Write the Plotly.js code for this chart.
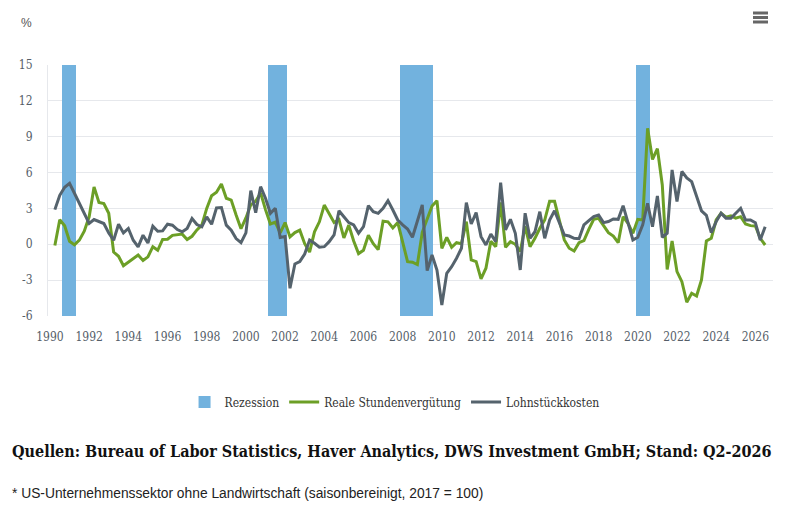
<!DOCTYPE html>
<html>
<head>
<meta charset="utf-8">
<script src="https://cdn.plot.ly/plotly-3.0.1.min.js"></script>
<style>
  html, body { margin: 0; padding: 0; background: #fff; }
  #chart { width: 807px; height: 517px; }
</style>
</head>
<body>
<div id="chart"></div>
<script>
// Rezessionen (Mitte, Breite in Jahren)
var recMid = [1990.97, 2001.6, 2008.7, 2020.25];
var recWidth = [0.72, 0.95, 1.68, 0.7];

// Quartale (Jahr, dezimal) und Werte in %
var realX = [1990.25,1990.5,1990.75,1991,1991.25,1991.5,1991.75,1992,1992.25,1992.5,1992.75,1993,1993.25,1993.5,1993.75,1994,1994.25,1994.5,1994.75,1995,1995.25,1995.5,1995.75,1996,1996.25,1996.5,1996.75,1997,1997.25,1997.5,1997.75,1998,1998.25,1998.5,1998.75,1999,1999.25,1999.5,1999.75,2000,2000.25,2000.5,2000.75,2001,2001.25,2001.5,2001.75,2002,2002.25,2002.5,2002.75,2003,2003.25,2003.5,2003.75,2004,2004.25,2004.5,2004.75,2005,2005.25,2005.5,2005.75,2006,2006.25,2006.5,2006.75,2007,2007.25,2007.5,2007.75,2008,2008.25,2008.5,2008.75,2009,2009.25,2009.5,2009.75,2010,2010.25,2010.5,2010.75,2011,2011.25,2011.5,2011.75,2012,2012.25,2012.5,2012.75,2013,2013.25,2013.5,2013.75,2014,2014.25,2014.5,2014.75,2015,2015.25,2015.5,2015.75,2016,2016.25,2016.5,2016.75,2017,2017.25,2017.5,2017.75,2018,2018.25,2018.5,2018.75,2019,2019.25,2019.5,2019.75,2020,2020.25,2020.5,2020.75,2021,2021.25,2021.5,2021.75,2022,2022.25,2022.5,2022.75,2023,2023.25,2023.5,2023.75,2024,2024.25,2024.5,2024.75,2025,2025.25,2025.5,2025.75,2026,2026.25,2026.5];

var realPay = [-0.1,2.05,1.55,0.25,-0.05,0.35,1.1,2.3,4.8,3.5,3.4,2.6,-0.65,-1.0,-1.8,-1.5,-1.2,-0.9,-1.35,-1.05,-0.2,-0.5,0.4,0.42,0.75,0.8,0.85,0.4,0.67,1.2,1.6,3.0,4.07,4.35,5.05,3.85,3.7,2.45,1.3,2.2,3.3,3.6,4.3,2.9,1.7,1.85,0.95,1.82,0.62,0.98,1.18,0.05,-0.65,1.04,1.88,3.28,2.58,1.82,2.07,0.53,1.6,0.28,-0.78,-0.5,0.76,0.05,-0.45,1.93,1.88,1.37,1.82,0.2,-1.45,-1.5,-1.7,1.0,2.1,3.2,3.65,-0.35,0.58,-0.25,0.13,0.05,1.9,-1.3,-1.45,-2.9,-2.0,0.25,-0.2,3.5,-0.25,0.22,0.0,-0.6,1.5,-0.2,0.5,1.34,2.03,3.6,3.6,1.9,0.36,-0.33,-0.56,0.13,0.3,1.25,2.09,2.17,1.53,0.97,0.69,0.13,2.31,1.76,0.92,2.09,2.03,9.7,7.1,8.0,4.96,-2.1,0.28,-2.29,-3.13,-4.85,-4.1,-4.33,-2.99,0.28,0.5,2.03,2.6,2.26,2.37,2.18,2.31,1.7,1.56,1.53,0.5,-0.06];

var unitCost = [2.9,4.1,4.77,5.1,4.27,3.42,2.58,1.74,2.07,1.88,1.74,0.95,0.34,1.68,0.95,1.32,0.34,-0.22,0.76,0.11,1.51,1.09,1.12,1.68,1.6,1.23,1.04,1.32,2.16,1.65,1.46,2.3,1.68,3.05,3.08,1.6,1.18,0.48,0.14,0.95,4.49,2.65,4.82,3.85,2.59,3.01,0.56,0.64,-3.68,-1.65,-1.45,-0.81,0.36,0.08,-0.25,-0.2,0.22,0.78,2.81,2.31,1.81,1.62,0.92,1.47,3.23,2.73,2.59,3.01,3.65,2.87,2.03,1.62,1.28,0.59,1.9,3.29,-2.2,-0.9,-2.15,-5.08,-2.43,-1.87,-1.17,-0.33,3.48,1.7,2.65,0.64,-0.06,0.86,0.22,5.15,1.2,2.09,0.92,-2.15,2.6,0.5,1.05,2.73,0.5,2.03,2.81,1.76,0.78,0.69,0.5,0.47,1.62,1.98,2.31,2.45,1.81,1.9,2.12,2.09,3.23,1.81,0.36,0.59,1.62,3.43,1.47,4.04,0.59,0.92,6.22,3.57,6.1,5.55,5.24,4.02,2.8,2.42,0.97,1.9,2.6,2.17,2.17,2.6,3.01,2.03,2.03,1.81,0.36,1.47];

var yTicks = [-6, -3, 0, 3, 6, 9, 12, 15];
var xTicks = [1990,1992,1994,1996,1998,2000,2002,2004,2006,2008,2010,2012,2014,2016,2018,2020,2022,2024,2026];

var slab = '"DejaVu Serif Condensed", "DejaVu Serif", serif';
var tickColor = '#555e68';

var traces = [
  {
    type: 'bar',
    name: 'Rezession',
    x: recMid,
    width: recWidth,
    y: recMid.map(function () { return 21; }),
    base: -6,
    marker: { color: '#72b2de', line: { width: 0 } },
    hoverinfo: 'skip'
  },
  {
    type: 'scatter',
    mode: 'lines',
    name: 'Reale Stundenvergütung',
    x: realX,
    y: realPay,
    line: { color: '#6c9f26', width: 3 }
  },
  {
    type: 'scatter',
    mode: 'lines',
    name: 'Lohnstückkosten',
    x: realX,
    y: unitCost,
    line: { color: '#55636d', width: 3 }
  }
];

// Menü-Symbol oben rechts (drei Balken)
var menuY = [13, 17.5, 22];
var shapes = menuY.map(function (py) {
  return {
    type: 'line', xref: 'paper', yref: 'paper',
    x0: (753 - 48) / 725, x1: (768 - 48) / 725,
    y0: (316 - py) / 251, y1: (316 - py) / 251,
    line: { color: '#666', width: 3 }
  };
});

var layout = {
  width: 807,
  height: 517,
  margin: { l: 48, r: 34, t: 65, b: 201 },
  paper_bgcolor: '#fff',
  plot_bgcolor: '#fff',
  barmode: 'overlay',
  bargap: 0,
  showlegend: true,
  font: { family: slab, color: tickColor, size: 12 },
  xaxis: {
    range: [1989.9, 2026.9],
    tickvals: xTicks,
    ticktext: xTicks.map(String),
    showgrid: false,
    zeroline: false,
    showline: false,
    ticks: '',
    ticklabelstandoff: 12,
    tickfont: { family: slab, size: 12, color: tickColor }
  },
  yaxis: {
    range: [-6, 15],
    tickvals: yTicks,
    ticktext: yTicks.map(String),
    showgrid: true,
    gridcolor: '#e6e8ec',
    gridwidth: 1,
    zeroline: false,
    showline: true,
    linecolor: '#e6e8ec',
    ticks: '',
    ticklabelstandoff: 12,
    tickfont: { family: slab, size: 12, color: tickColor }
  },
  legend: {
    orientation: 'h',
    x: 0.478,
    xanchor: 'center',
    y: -0.343,
    yanchor: 'middle',
    font: { family: slab, size: 12, color: '#333' },
    itemwidth: 30
  },
  shapes: shapes,
  annotations: [
    {
      xref: 'paper', yref: 'paper',
      x: (19 - 48) / 725, y: (316 - 23) / 251,
      xanchor: 'left', yanchor: 'middle',
      text: '%', showarrow: false,
      font: { family: 'Liberation Sans, sans-serif', size: 12, color: '#555' }
    },
    {
      xref: 'paper', yref: 'paper',
      x: (10 - 48) / 725, y: (316 - 451) / 251,
      xanchor: 'left', yanchor: 'middle',
      text: '<b>Quellen: Bureau of Labor Statistics, Haver Analytics, DWS Investment GmbH; Stand: Q2-2026</b>',
      showarrow: false,
      font: { family: slab, size: 16, color: '#111' }
    },
    {
      xref: 'paper', yref: 'paper',
      x: (10 - 48) / 725, y: (316 - 493) / 251,
      xanchor: 'left', yanchor: 'middle',
      text: '* US-Unternehmenssektor ohne Landwirtschaft (saisonbereinigt, 2017 = 100)',
      showarrow: false,
      font: { family: 'Liberation Sans, sans-serif', size: 13.8, color: '#222' }
    }
  ]
};

Plotly.newPlot('chart', traces, layout, { displayModeBar: false, staticPlot: true });
</script>
</body>
</html>
